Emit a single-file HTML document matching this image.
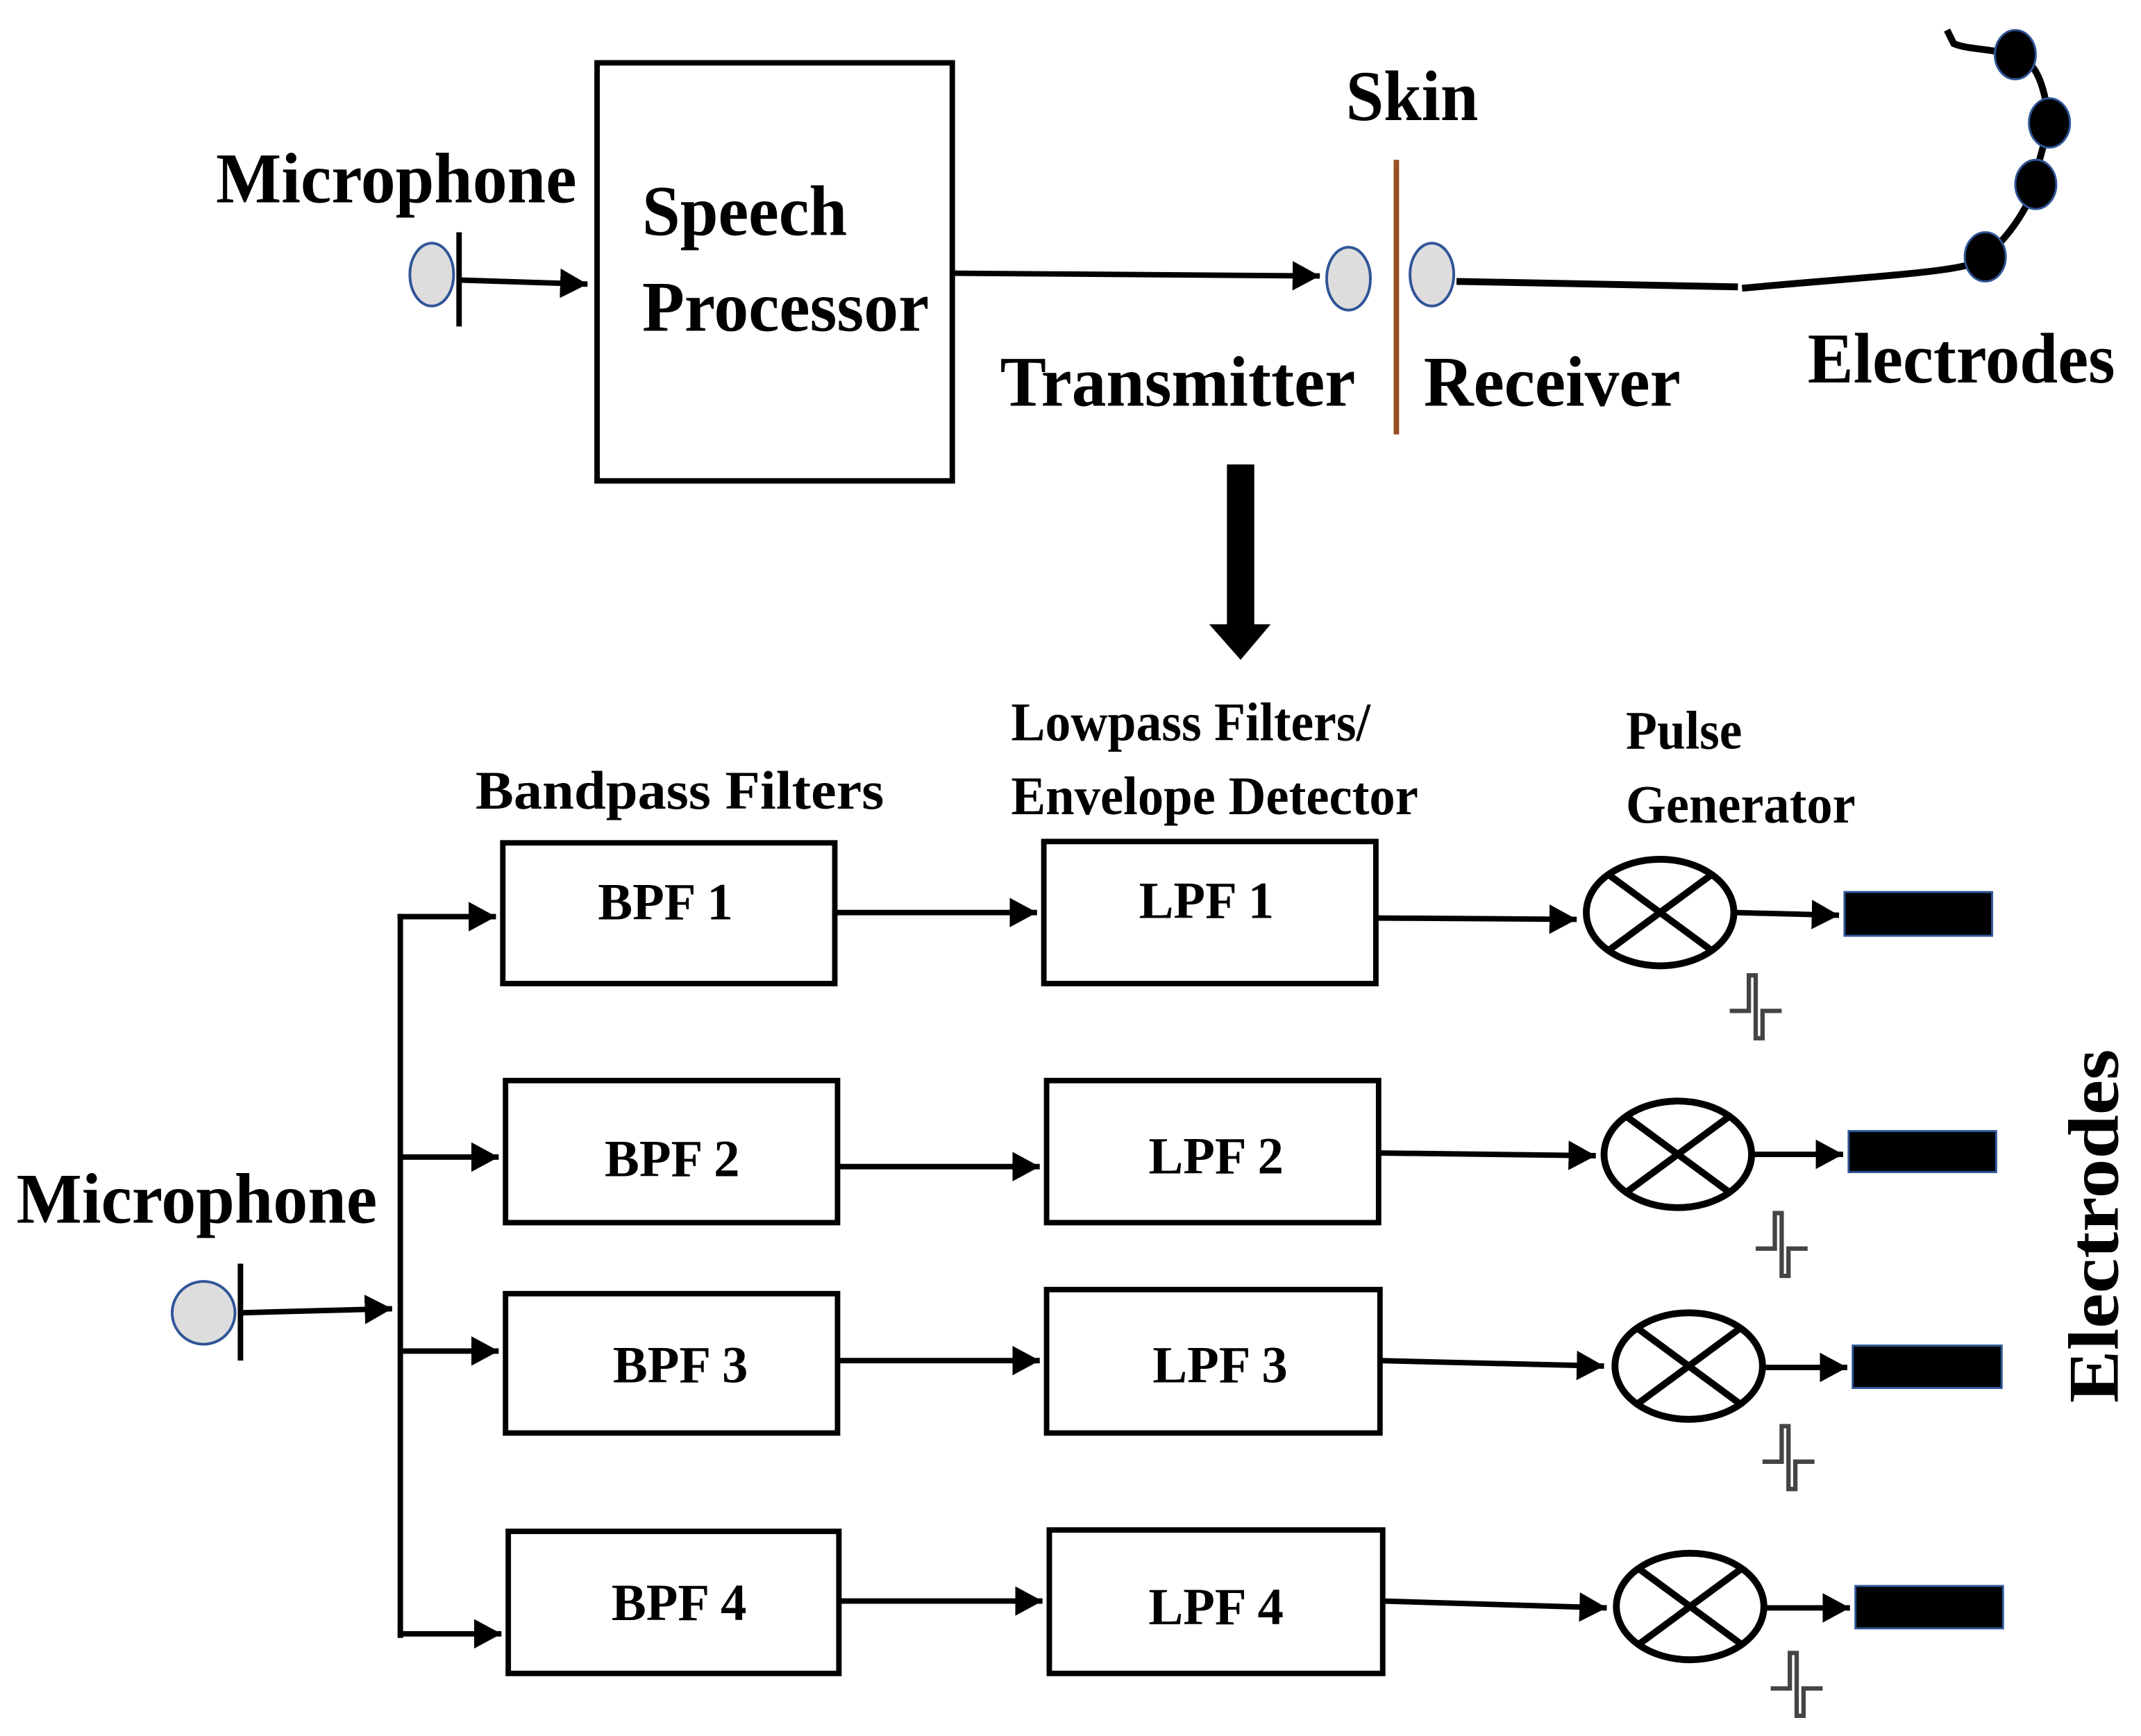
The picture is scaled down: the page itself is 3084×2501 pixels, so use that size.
<!DOCTYPE html>
<html><head><meta charset="utf-8"><style>
html,body{margin:0;padding:0;background:#fff}
svg{display:block}
text{font-family:"Liberation Serif",serif;font-weight:bold;fill:#000}
</style></head><body>
<svg width="3084" height="2501" viewBox="0 0 1567 1270.8" preserveAspectRatio="none" xmlns="http://www.w3.org/2000/svg">
<defs>
<marker id="a" markerWidth="6" markerHeight="6" refX="5" refY="3" orient="auto" markerUnits="strokeWidth"><path d="M0,0.3 L5,3 L0,5.7 z" fill="#000"/></marker>
<g id="pulse"><path d="M0,28 H14 V2 H19 V48 H24 V28 H38" fill="none" stroke="#444" stroke-width="3.2"/></g>
</defs>
<!-- TOP -->
<text x="158" y="148" font-size="52" textLength="264" lengthAdjust="spacingAndGlyphs">Microphone</text>
<ellipse cx="316" cy="201" rx="16" ry="23" fill="#ddd" stroke="#2f5597" stroke-width="2"/>
<line x1="336" y1="170" x2="336" y2="239" stroke="#000" stroke-width="4"/>
<line x1="336" y1="205" x2="430" y2="208" stroke="#000" stroke-width="4" marker-end="url(#a)"/>
<rect x="437" y="46" width="260" height="306" fill="none" stroke="#000" stroke-width="4"/>
<text x="470" y="172" font-size="52" textLength="150" lengthAdjust="spacingAndGlyphs">Speech</text>
<text x="470" y="242" font-size="52" textLength="210" lengthAdjust="spacingAndGlyphs">Processor</text>
<line x1="697" y1="200" x2="966" y2="202" stroke="#000" stroke-width="4" marker-end="url(#a)"/>
<ellipse cx="987" cy="204" rx="16" ry="23" fill="#ddd" stroke="#2f5597" stroke-width="2"/>
<line x1="1022" y1="117" x2="1022" y2="318" stroke="#9a4f22" stroke-width="4"/>
<ellipse cx="1048" cy="201" rx="16" ry="23" fill="#ddd" stroke="#2f5597" stroke-width="2"/>
<line x1="1066" y1="206" x2="1272" y2="210" stroke="#000" stroke-width="5"/>
<path d="M1275,211 C1350,204 1420,200 1440,194 C1460,188 1480,160 1488,140 L1492,120 L1500,90 C1496,60 1490,45 1475,40 C1450,35 1440,36 1430,32 L1425,22" fill="none" stroke="#000" stroke-width="5"/>
<ellipse cx="1475" cy="40" rx="15" ry="18" fill="#000" stroke="#2f5597" stroke-width="1.5"/>
<ellipse cx="1500" cy="90" rx="15" ry="18" fill="#000" stroke="#2f5597" stroke-width="1.5"/>
<ellipse cx="1490" cy="135" rx="15" ry="18" fill="#000" stroke="#2f5597" stroke-width="1.5"/>
<ellipse cx="1453" cy="188" rx="15" ry="18" fill="#000" stroke="#2f5597" stroke-width="1.5"/>
<text x="985" y="88" font-size="52" textLength="97" lengthAdjust="spacingAndGlyphs">Skin</text>
<text x="732" y="297" font-size="52" textLength="260" lengthAdjust="spacingAndGlyphs">Transmitter</text>
<text x="1042" y="297" font-size="52" textLength="188" lengthAdjust="spacingAndGlyphs">Receiver</text>
<text x="1323" y="280" font-size="52" textLength="225" lengthAdjust="spacingAndGlyphs">Electrodes</text>
<path d="M898,340 H918 V457 H930 L908,483 L885,457 H898 Z" fill="#000"/>
<!-- BOTTOM labels -->
<text x="348" y="592" font-size="40" textLength="299" lengthAdjust="spacingAndGlyphs">Bandpass Filters</text>
<text x="740" y="542" font-size="40" textLength="263" lengthAdjust="spacingAndGlyphs">Lowpass Filters/</text>
<text x="740" y="596" font-size="40" textLength="298" lengthAdjust="spacingAndGlyphs">Envelope Detector</text>
<text x="1190" y="548" font-size="40" textLength="85" lengthAdjust="spacingAndGlyphs">Pulse</text>
<text x="1190" y="602" font-size="40" textLength="168" lengthAdjust="spacingAndGlyphs">Generator</text>
<text x="12" y="895" font-size="52" textLength="264" lengthAdjust="spacingAndGlyphs">Microphone</text>
<text transform="translate(1550,1027) rotate(-90)" font-size="52" textLength="259" lengthAdjust="spacingAndGlyphs">Electrodes</text>
<ellipse cx="149" cy="961" rx="23" ry="23" fill="#ddd" stroke="#2f5597" stroke-width="2"/>
<line x1="176" y1="925" x2="176" y2="996" stroke="#000" stroke-width="4"/>
<line x1="176" y1="961" x2="287" y2="958" stroke="#000" stroke-width="4" marker-end="url(#a)"/>
<line x1="293" y1="669" x2="293" y2="1199" stroke="#000" stroke-width="4"/>
<g stroke="#000" stroke-width="4" fill="none">
<line x1="291" y1="671" x2="363" y2="671" marker-end="url(#a)"/>
<line x1="293" y1="847" x2="365" y2="847" marker-end="url(#a)"/>
<line x1="293" y1="989" x2="365" y2="989" marker-end="url(#a)"/>
<line x1="291" y1="1196" x2="367" y2="1196" marker-end="url(#a)"/>
<rect x="368" y="617" width="243" height="103"/>
<rect x="764" y="616" width="243" height="104"/>
<rect x="370" y="791" width="243" height="104"/>
<rect x="766" y="791" width="243" height="104"/>
<rect x="370" y="947" width="243" height="102"/>
<rect x="766" y="944" width="244" height="105"/>
<rect x="372" y="1121" width="242" height="104"/>
<rect x="768" y="1120" width="244" height="105"/>
<line x1="611" y1="668" x2="759" y2="668" marker-end="url(#a)"/>
<line x1="613" y1="854" x2="761" y2="854" marker-end="url(#a)"/>
<line x1="613" y1="996" x2="761" y2="996" marker-end="url(#a)"/>
<line x1="614" y1="1172" x2="763" y2="1172" marker-end="url(#a)"/>
<line x1="1007" y1="672" x2="1154" y2="673" marker-end="url(#a)"/>
<line x1="1009" y1="844" x2="1168" y2="846" marker-end="url(#a)"/>
<line x1="1010" y1="996" x2="1174" y2="1000" marker-end="url(#a)"/>
<line x1="1012" y1="1172" x2="1176" y2="1177" marker-end="url(#a)"/>
</g>
<g stroke="#000" stroke-width="5" fill="none">
<ellipse cx="1215" cy="668" rx="54" ry="39"/><path d="M1177,640 L1253,696 M1253,640 L1177,696"/>
<ellipse cx="1228" cy="845" rx="54" ry="39"/><path d="M1190,817 L1266,873 M1266,817 L1190,873"/>
<ellipse cx="1236" cy="1000" rx="54" ry="39"/><path d="M1198,972 L1274,1028 M1274,972 L1198,1028"/>
<ellipse cx="1237" cy="1176" rx="54" ry="39"/><path d="M1199,1148 L1275,1204 M1275,1148 L1199,1204"/>
</g>
<g stroke="#000" stroke-width="4">
<line x1="1270" y1="668" x2="1346" y2="670" marker-end="url(#a)"/>
<line x1="1283" y1="845" x2="1349" y2="845" marker-end="url(#a)"/>
<line x1="1291" y1="1001" x2="1352" y2="1001" marker-end="url(#a)"/>
<line x1="1292" y1="1177" x2="1354" y2="1177" marker-end="url(#a)"/>
</g>
<g fill="#000" stroke="#2f5597" stroke-width="1.5">
<rect x="1350" y="653" width="108" height="32"/>
<rect x="1353" y="828" width="108" height="30"/>
<rect x="1356" y="985" width="109" height="31"/>
<rect x="1358" y="1161" width="108" height="31"/>
</g>
<use href="#pulse" x="1266" y="712"/>
<use href="#pulse" x="1285" y="886"/>
<use href="#pulse" x="1290" y="1042"/>
<use href="#pulse" x="1296" y="1208"/>
<g font-size="38" text-anchor="middle">
<text x="487" y="673">BPF 1</text>
<text x="883" y="672">LPF 1</text>
<text x="492" y="861">BPF 2</text>
<text x="890" y="859">LPF 2</text>
<text x="498" y="1012">BPF 3</text>
<text x="893" y="1012">LPF 3</text>
<text x="497" y="1186">BPF 4</text>
<text x="890" y="1189">LPF 4</text>
</g>
</svg>
</body></html>
